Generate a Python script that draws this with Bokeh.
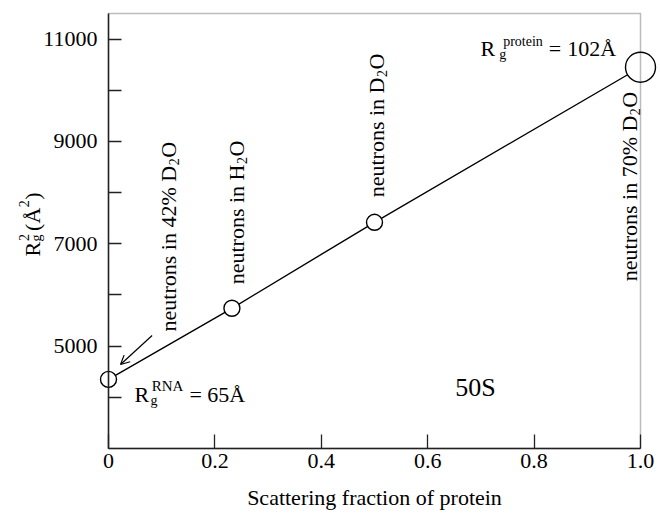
import math

from bokeh.embed import file_html
from bokeh.models import (Arrow, BoxAnnotation, ColumnDataSource,
                          CustomJSTickFormatter, FixedTicker, Label, OpenHead,
                          Range1d)
from bokeh.plotting import figure
from bokeh.resources import INLINE

# 50S subunit: squared radius of gyration vs. scattering fraction of protein
fraction = [0.0, 0.232, 0.5, 1.0]
rg_squared = [4350, 5740, 7420, 10450]
# contrast condition of each measurement (text before subscript, subscript, text after)
conditions = [
    ("neutrons in 42% D", "2", "O"),
    ("neutrons in H", "2", "O"),
    ("neutrons in D", "2", "O"),
    ("neutrons in 70% D", "2", "O"),
]
x_ticks = [0, 0.2, 0.4, 0.6, 0.8, 1.0]
y_ticks = [5000, 7000, 9000, 11000]
y_minor_ticks = [4000, 6000, 8000, 10000]
x_lo, x_hi = 0.0, 1.0
y_lo, y_hi = 3000, 11500

FONT = "Liberation Serif"
INK = "#222222"

# page geometry: the plot box sits inside a canvas-filling frame so that
# markers on the box edges and the outer titles are never clipped
W, H = 660, 513
BOX_L, BOX_R, BOX_T, BOX_B = 108, 640, 13, 448
dx_px = (x_hi - x_lo) / (BOX_R - BOX_L)
dy_px = (y_hi - y_lo) / (BOX_B - BOX_T)
x_range = Range1d(x_lo - BOX_L * dx_px, x_hi + (W - BOX_R) * dx_px)
y_range = Range1d(y_lo - (H - BOX_B) * dy_px, y_hi + BOX_T * dy_px)

# advance widths (1/1000 em) of the serif face, used to chain sub/superscript runs
ADV = {" ": 250, "%": 833, "(": 333, ")": 333, "=": 564, "A": 722, "D": 722,
       "H": 722, "N": 722, "O": 722, "R": 667, "S": 556, "Å": 722, "a": 444,
       "c": 444, "e": 444, "g": 500, "i": 278, "n": 500, "o": 500, "p": 500,
       "r": 333, "s": 389, "t": 278, "u": 500}


def text_width(text, size):
    return sum(ADV.get(ch, 500) for ch in text) * size / 1000.0


def rich_text(p, x, y, runs, angle=0.0, dx=0.0, dy=0.0):
    """Draw runs of (text, size, baseline shift, gap before, advances?)."""
    a = math.radians(angle)
    ca, sa = math.cos(a), math.sin(a)
    pos = 0.0
    for text, size, shift, gap, advance in runs:
        pos += gap
        ox = dx + pos * ca - shift * sa
        oy = dy + pos * sa + shift * ca
        p.add_layout(Label(x=x, y=y, x_offset=ox, y_offset=oy, text=text,
                           angle=angle, angle_units="deg", text_font=FONT,
                           text_font_size=f"{size}px", text_color="black",
                           text_baseline="alphabetic", text_align="left"))
        if advance:
            pos += text_width(text, size)


p = figure(width=W, height=H, x_range=x_range, y_range=y_range,
           output_backend="svg", toolbar_location=None,
           min_border_left=0, min_border_right=0, min_border_top=0,
           min_border_bottom=0)
p.background_fill_color = "white"
p.border_fill_color = "white"
p.grid.visible = False
p.outline_line_color = None

# plot box
p.add_layout(BoxAnnotation(left=x_lo, right=x_hi, bottom=y_lo, top=y_hi,
                           fill_alpha=0, line_color=INK, line_width=1.5))

# axes pinned to the box edges: inward ticks, serif labels
p.xaxis.fixed_location = y_lo
p.xaxis.bounds = (x_lo, x_hi)
p.yaxis.fixed_location = x_lo
p.yaxis.bounds = (y_lo, y_hi)
for ax in (p.xaxis[0], p.yaxis[0]):
    ax.axis_line_color = INK
    ax.axis_line_width = 1.5
    ax.major_tick_line_color = INK
    ax.minor_tick_line_color = INK
    ax.major_tick_line_width = 1.3
    ax.minor_tick_line_width = 1.3
    ax.major_tick_out = 0
    ax.minor_tick_out = 0
    ax.major_label_text_font = FONT
    ax.major_label_text_font_size = "22px"
    ax.major_label_text_color = "black"

p.xaxis.ticker = FixedTicker(ticks=x_ticks)
p.xaxis.formatter = CustomJSTickFormatter(
    code="return tick == 0 ? '0' : tick.toFixed(1);")
p.xaxis.major_tick_in = 14
p.xaxis.minor_tick_in = 0
p.xaxis.major_label_standoff = 5

p.yaxis.ticker = FixedTicker(ticks=y_ticks, minor_ticks=y_minor_ticks)
p.yaxis.formatter = CustomJSTickFormatter(code="return tick.toFixed(0);")
p.yaxis.major_tick_in = 13
p.yaxis.minor_tick_in = 13
p.yaxis.major_label_standoff = 11

# data line and open circle markers (protein-only point drawn larger)
src = ColumnDataSource(dict(
    x=fraction, y=rg_squared,
    size=[30 if f == 1.0 else 16 for f in fraction]))
p.line("x", "y", source=src, line_color="black", line_width=1.4)
p.scatter("x", "y", source=src, size="size", fill_color="white",
          line_color="black", line_width=1.4)

# rotated condition labels, placed relative to each point
label_offsets = [(60, 48), (5, 24), (2, 25), (-11, -214)]
for (pre, sub, post), fx, ry, (ox, oy) in zip(conditions, fraction,
                                               rg_squared, label_offsets):
    rich_text(p, fx, ry, [(pre, 22, 0, 0, True), (sub, 14, -5, 0.5, True),
                          (post, 22, 0, 0.5, True)],
              angle=90, dx=ox, dy=oy)

# arrow from the 42% D2O label to the RNA point
p.add_layout(Arrow(end=OpenHead(size=9, line_width=1.2, line_color="black"),
                   x_start=0.082, y_start=5208, x_end=0.0226, y_end=4641,
                   line_width=1.2, line_color="black"))

# radius of gyration of RNA (fraction 0) and of protein (fraction 1)
rich_text(p, fraction[0], rg_squared[0],
          [("R", 22, 0, 0, True), ("g", 14, -6, 1.3, False),
           ("RNA", 15, 8, 1.3, True), ("= 65Å", 22, 0, 6, True)],
          dx=26, dy=-14.7)
rich_text(p, fraction[-1], rg_squared[-1],
          [("R", 22, 0, 0, True), ("g", 14, -6, 4, False),
           ("protein", 14, 7, 4, True), ("=", 22, 0, 6, True),
           ("102Å", 22, 0, 6, True)],
          dx=-160, dy=19)

# subunit name
p.add_layout(Label(x=0.652, y=4192, text="50S", text_font=FONT,
                   text_font_size="26px", text_color="black",
                   text_baseline="alphabetic", text_align="left"))

# axis titles
p.add_layout(Label(x=0.5, y=y_lo, y_offset=-49,
                   text="Scattering fraction of protein", text_font=FONT,
                   text_font_size="22px", text_color="black",
                   text_baseline="alphabetic", text_align="center"))
rich_text(p, x_lo, 6750,
          [("R", 22, 0, 0, True), ("g", 14, -4, 0.5, False),
           ("2", 14, 9, 0.5, True), ("(", 22, 0, 3, True),
           ("Å", 22, 0, 0, True), ("2", 14, 9, 0.5, True),
           (")", 22, 0, 0.5, True)],
          angle=90, dx=-76)

open("out.html", "w").write(file_html(p, INLINE))
